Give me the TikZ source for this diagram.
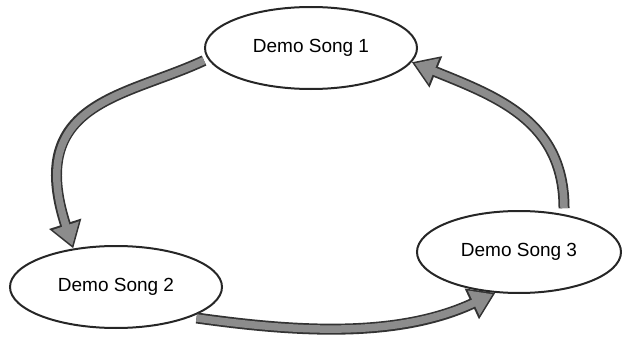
\documentclass[tikz,border=0pt]{standalone}
\usepackage{fontspec}
\setmainfont{Liberation Sans}
\usepackage{tikz}
\usetikzlibrary{shapes.geometric,arrows.meta}

\tikzset{
  song/.style={ellipse, draw=black!85, line width=2pt, inner sep=0pt,
    minimum width=212pt, minimum height=82pt, font=\fontsize{19}{21}\selectfont},
  bandout/.style={line width=11pt, draw=black!80,
    -{Triangle[length=26pt,width=32pt,fill=black!80]}},
  bandin/.style={line width=7.5pt, draw=black!45, shorten >=3pt,
    -{Triangle[length=21pt,width=26pt,fill=black!45]}}
}

\begin{document}
\begin{tikzpicture}[x=1pt,y=1pt]
\useasboundingbox (0,0) rectangle (622,-340);
  \node[song] (s1) at (311,-48) {Demo Song 1};
  \node[song] (s2) at (116,-287) {Demo Song 2};
  \node[song, minimum width=204pt] (s3) at (519,-252) {Demo Song 3};
  % arrows
  \foreach \st in {bandout,bandin}{
    \draw[\st, shorten <=4pt] (s1.186) to[out=205,in=108,out looseness=1,in looseness=1.7] (s2.138);
    \draw[\st, shorten <=6pt] (s2.-22) to[out=-8,in=205,looseness=0.9] (s3.240);
    \draw[\st, shorten <=6pt] (s3.40) to[out=90,in=-22,looseness=1.1] (s1.-8);
  }
\end{tikzpicture}
\end{document}
